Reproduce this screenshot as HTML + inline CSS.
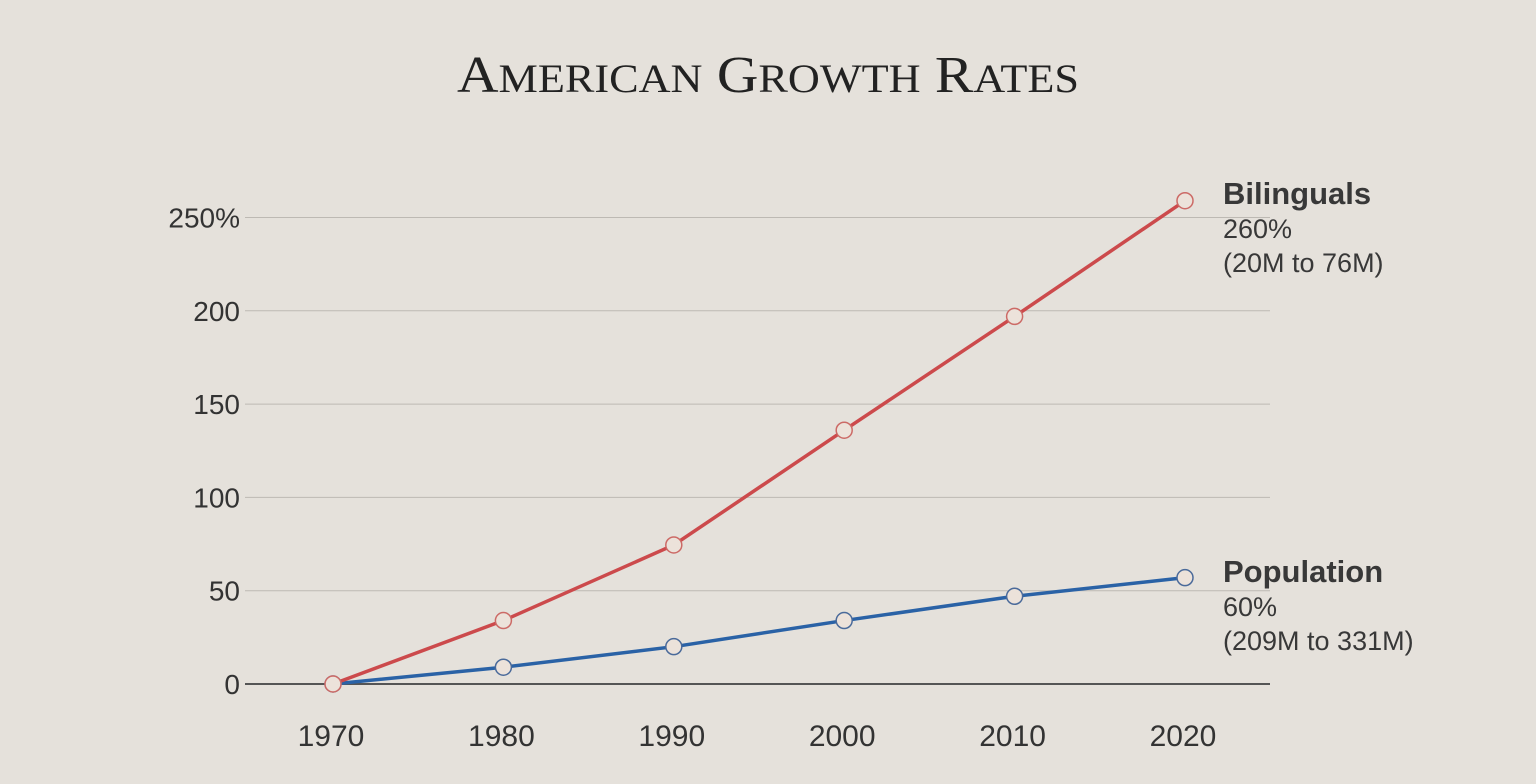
<!DOCTYPE html>
<html><head><meta charset="utf-8"><style>
html,body{margin:0;padding:0;width:1536px;height:784px;overflow:hidden;background:#e5e1db;}
svg{display:block}
</style></head><body>
<svg width="1536" height="784" xmlns="http://www.w3.org/2000/svg">
<rect width="1536" height="784" fill="#e5e1db"/>
<text x="768" y="92" text-anchor="middle" font-family="Liberation Serif, serif" font-size="52" fill="#222" textLength="622" lengthAdjust="spacingAndGlyphs">A<tspan font-size="40">MERICAN</tspan> G<tspan font-size="40">ROWTH</tspan> R<tspan font-size="40">ATES</tspan></text>
<g id="grid"></g><g id="lines"></g><g id="labels"></g>
</svg>
<script>
const years=[1970,1980,1990,2000,2010,2020];
const bilinguals=[0,34,74.5,136,197,259];
const population=[0,9,20,34,47,57];
const yTicks=[0,50,100,150,200,250];
const yTickLabels=["0","50","100","150","200","250%"];
const NS="http://www.w3.org/2000/svg";
function xs(v){return 333+(v-1970)*(1185-333)/50;}
function ys(v){return 684-v*(684-217.5)/250;}
function mk(t,a,p){const e=document.createElementNS(NS,t);for(const k in a)e.setAttribute(k,a[k]);(p||document.querySelector('svg')).appendChild(e);return e;}
const grid=document.getElementById('grid'),lines=document.getElementById('lines'),labels=document.getElementById('labels');
yTicks.forEach((t,i)=>{
 const l=mk('line',{x1:245,x2:1270,y1:ys(t),y2:ys(t),stroke:t===0?'#555':'#bdb9b3','stroke-width':t===0?2:1},grid);
 
 
 const tx=mk('text',{x:240,y:ys(t)+10,'text-anchor':'end','font-family':'Liberation Sans, sans-serif','font-size':28,fill:'#333'},labels);
 tx.textContent=yTickLabels[i];
 
 
});
years.forEach(y=>{
 const tx=mk('text',{x:xs(y)-2,y:746,'text-anchor':'middle','font-family':'Liberation Sans, sans-serif','font-size':30,fill:'#333'},labels);
 tx.textContent=y;
 
 
});
function series(vals,color,name){
 const p=mk('polyline',{points:vals.map((v,i)=>xs(years[i])+','+ys(v)).join(' '),fill:'none',stroke:color,'stroke-width':3.5},lines);
 
 
 return p;
}
function markers(vals,color,name){
 vals.forEach((v,i)=>{
  const c=mk('circle',{cx:xs(years[i]),cy:ys(v),r:8,fill:'#ece2da',stroke:color,'stroke-width':1.5},lines);
  
  
 });
}
series(population,'#2a62a6','population');
series(bilinguals,'#cc4a4c','bilinguals');
markers(population,'#4a6a9a','population');
markers(bilinguals,'#cc6a66','bilinguals');
function legend(y,title,l1,l2,name){
 const a=mk('text',{x:1223,y:y,'font-family':'Liberation Sans, sans-serif','font-size':31,'font-weight':'bold',fill:'#383838'},labels);
 a.textContent=title;
 
 
 const b=mk('text',{x:1223,y:y+34,'font-family':'Liberation Sans, sans-serif','font-size':27,fill:'#383838'},labels);
 b.textContent=l1;
 
 
 const c=mk('text',{x:1223,y:y+68,'font-family':'Liberation Sans, sans-serif','font-size':27,fill:'#383838'},labels);
 c.textContent=l2;
 
 
}
legend(204,'Bilinguals','260%','(20M to 76M)','bilinguals');
legend(582,'Population','60%','(209M to 331M)','population');
</script>
</body></html>
